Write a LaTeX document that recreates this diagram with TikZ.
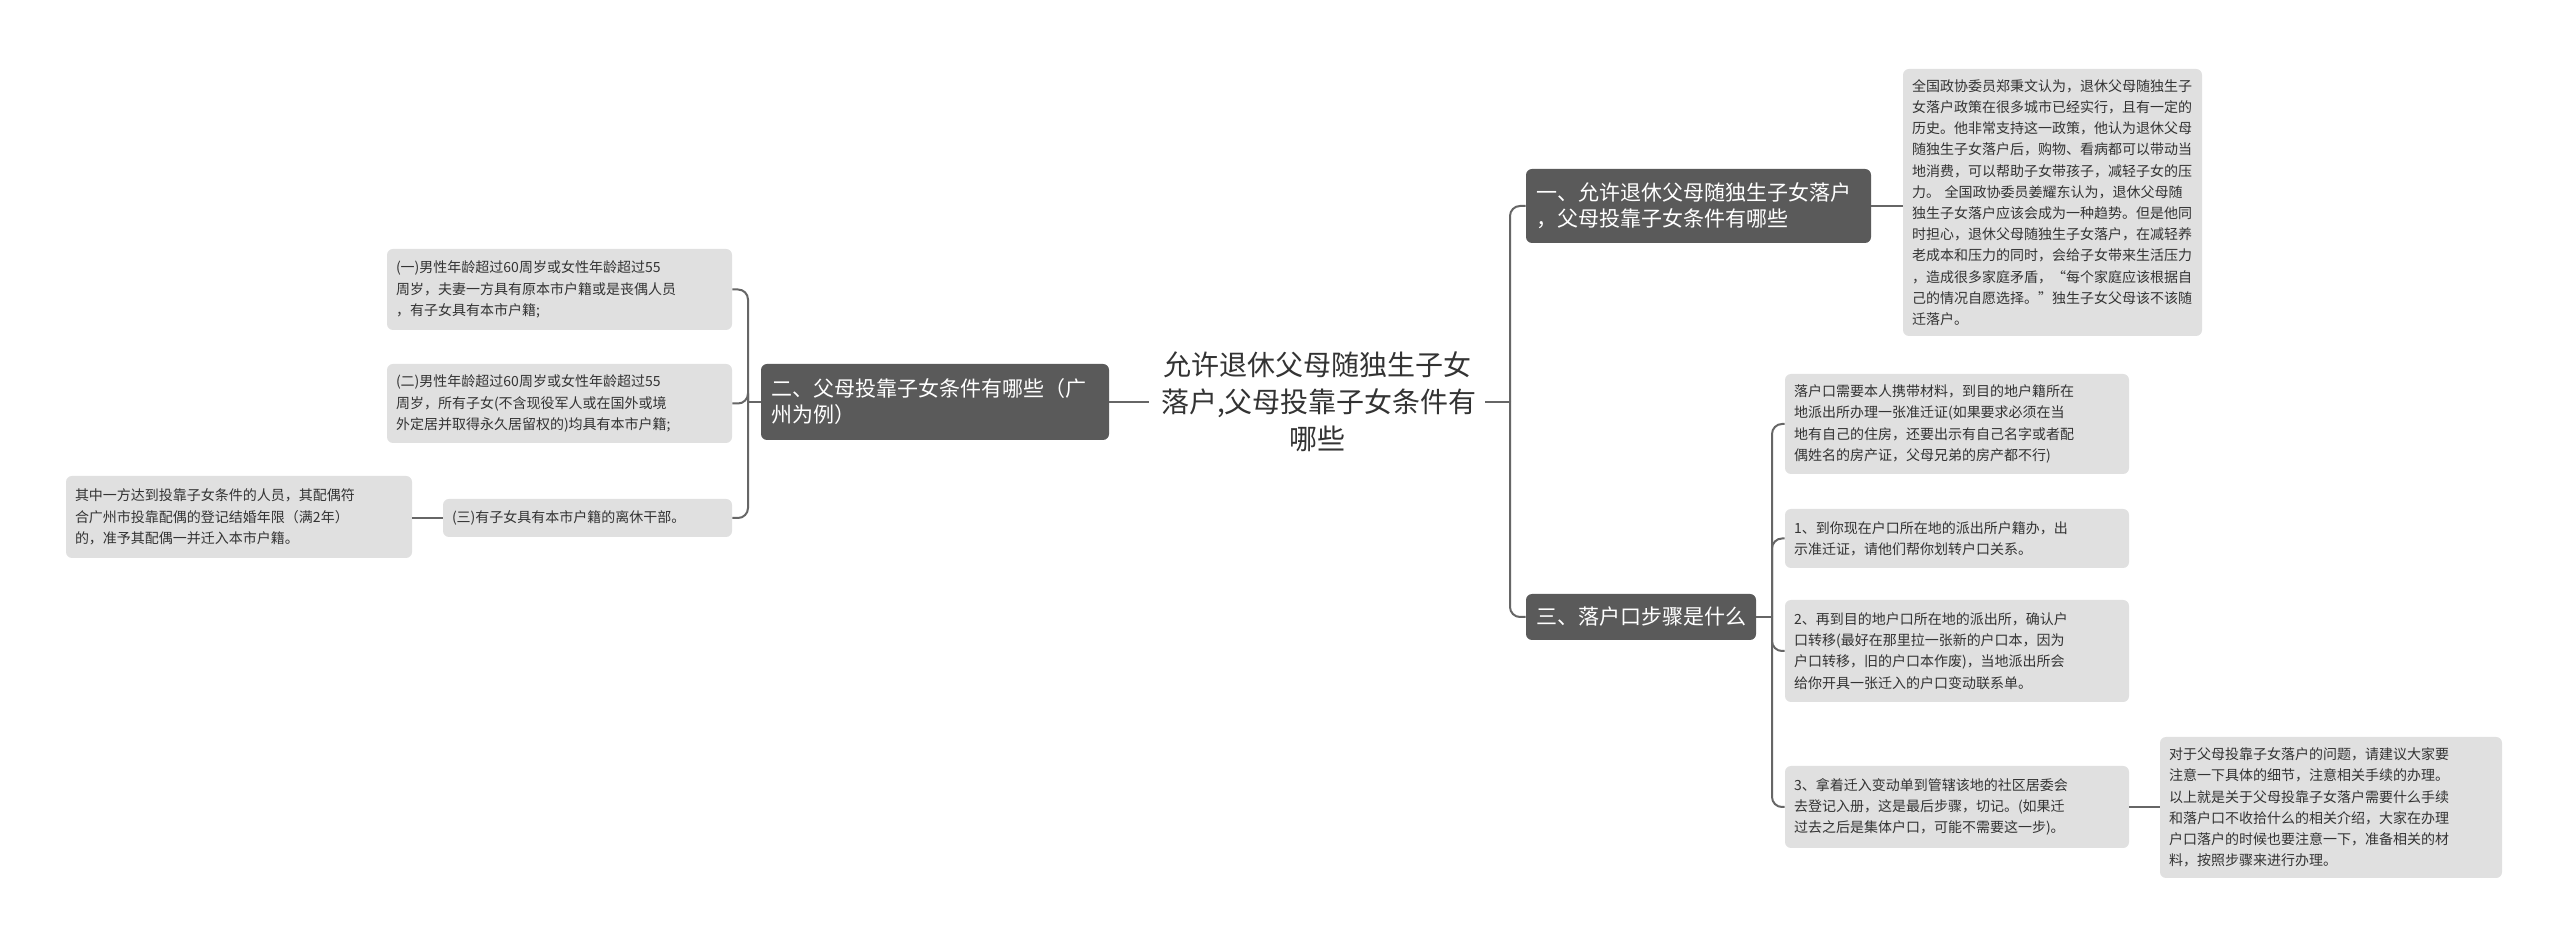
\documentclass[tikz,border=0pt]{standalone}
\usepackage{fontspec}
\setmainfont{Noto Sans CJK SC}
\definecolor{leafc}{HTML}{E0E0E0}
\definecolor{branchc}{HTML}{5A5A5A}
\definecolor{linec}{HTML}{666666}
\definecolor{txtc}{HTML}{333333}
\newcommand{\leaffont}{\fontsize{7pt}{10.6pt}\selectfont}
\newcommand{\branchfont}{\fontsize{10.5pt}{13pt}\selectfont}
\newcommand{\rootfont}{\fontsize{14pt}{18.5pt}\selectfont}
\begin{document}
\begin{tikzpicture}[x=0.5pt,y=-0.5pt,
  leaf/.style={rounded corners=3pt, fill=leafc, text=txtc, inner xsep=4.5pt, inner ysep=0pt, align=left, font=\leaffont},
  branch/.style={rounded corners=3pt, fill=branchc, text=white, inner xsep=5pt, inner ysep=0pt, align=left, font=\branchfont},
  conn/.style={draw=linec, line width=1pt, rounded corners=5pt}]
\useasboundingbox[fill=white] (0,0) rectangle (2560,945);
\node[font=\rootfont, text=txtc, align=center, text width=156pt, inner xsep=6pt] (root) at (1317,402) {允许退休父母随独生子女\\落户,父母投靠子女条件有\\哪些};
\node[branch, text width=162.5pt, minimum height=37pt] (b1) at (1698.5,206) {一、允许退休父母随独生子女落户\\，父母投靠子女条件有哪些};
\node[branch, text width=105pt, minimum height=23pt] (b3) at (1641,617) {三、落户口步骤是什么};
\node[branch, text width=164pt, minimum height=38pt] (b2) at (935,402) {二、父母投靠子女条件有哪些（广\\州为例）};
\node[leaf, text width=140.5pt, minimum height=133.5pt] (l1a) at (2052.5,202.5) {全国政协委员郑秉文认为，退休父母随独生子\\女落户政策在很多城市已经实行，且有一定的\\历史。他非常支持这一政策，他认为退休父母\\随独生子女落户后，购物、看病都可以带动当\\地消费，可以帮助子女带孩子，减轻子女的压\\力。 全国政协委员姜耀东认为，退休父母随\\独生子女落户应该会成为一种趋势。但是他同\\时担心，退休父母随独生子女落户，在减轻养\\老成本和压力的同时，会给子女带来生活压力\\，造成很多家庭矛盾，“每个家庭应该根据自\\己的情况自愿选择。”独生子女父母该不该随\\迁落户。};
\node[leaf, text width=163pt, minimum height=50pt] (l3a) at (1957,424) {落户口需要本人携带材料，到目的地户籍所在\\地派出所办理一张准迁证(如果要求必须在当\\地有自己的住房，还要出示有自己名字或者配\\偶姓名的房产证，父母兄弟的房产都不行)};
\node[leaf, text width=163pt, minimum height=29.5pt] (l3b) at (1957,538.5) {1、到你现在户口所在地的派出所户籍办，出\\示准迁证，请他们帮你划转户口关系。};
\node[leaf, text width=163pt, minimum height=51pt] (l3c) at (1957,651) {2、再到目的地户口所在地的派出所，确认户\\口转移(最好在那里拉一张新的户口本，因为\\户口转移，旧的户口本作废)，当地派出所会\\给你开具一张迁入的户口变动联系单。};
\node[leaf, text width=163pt, minimum height=41pt] (l3d) at (1957,807) {3、拿着迁入变动单到管辖该地的社区居委会\\去登记入册，这是最后步骤，切记。(如果迁\\过去之后是集体户口，可能不需要这一步)。};
\node[leaf, text width=162pt, minimum height=70.5pt] (l3e) at (2331,807.5) {对于父母投靠子女落户的问题，请建议大家要\\注意一下具体的细节，注意相关手续的办理。\\以上就是关于父母投靠子女落户需要什么手续\\和落户口不收拾什么的相关介绍，大家在办理\\户口落户的时候也要注意一下，准备相关的材\\料，按照步骤来进行办理。};
\node[leaf, text width=163.5pt, minimum height=40.5pt] (l2a) at (559.5,289.5) {(一)男性年龄超过60周岁或女性年龄超过55\\周岁，夫妻一方具有原本市户籍或是丧偶人员\\，有子女具有本市户籍;};
\node[leaf, text width=163.5pt, minimum height=39.5pt] (l2b) at (559.5,403.5) {(二)男性年龄超过60周岁或女性年龄超过55\\周岁，所有子女(不含现役军人或在国外或境\\外定居并取得永久居留权的)均具有本市户籍;};
\node[leaf, text width=135.5pt, minimum height=19pt] (l2c) at (587.5,518) {(三)有子女具有本市户籍的离休干部。};
\node[leaf, text width=164pt, minimum height=41pt] (l2d) at (239,517) {其中一方达到投靠子女条件的人员，其配偶符\\合广州市投靠配偶的登记结婚年限（满2年）\\的，准予其配偶一并迁入本市户籍。};
\coordinate (fr) at (1510,402);
\coordinate (f3) at (1772,617);
\coordinate (fl) at (748,402);
\draw[conn] (root.east) -- (fr);
\draw[conn] (fr) |- (b1.west);
\draw[conn] (fr) |- (b3.west);
\draw[conn] (b1.east) -- (b1.east -| l1a.west);
\draw[conn] (b3.east) -- (f3);
\foreach \n in {l3a,l3b,l3c,l3d} \draw[conn] (f3) |- (\n.west);
\draw[conn] (l3d.east) -- (l3d.east -| l3e.west);
\draw[conn] (root.west) -- (b2.east);
\draw[conn] (b2.west) -- (fl);
\foreach \n in {l2a,l2b,l2c} \draw[conn] (fl) |- (\n.east);
\draw[conn] (l2c.west) -- (l2c.west -| l2d.east);
\end{tikzpicture}
\end{document}
